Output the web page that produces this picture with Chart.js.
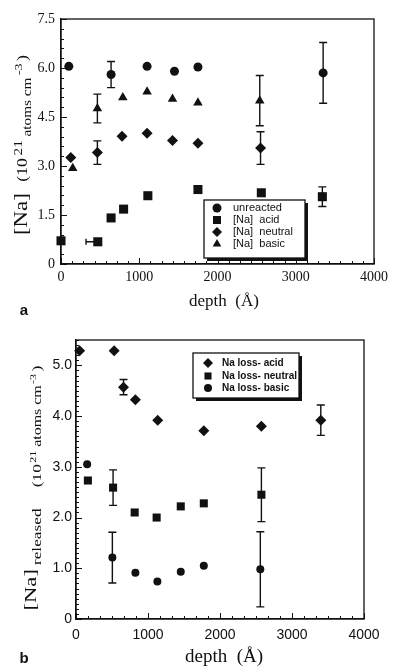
<!doctype html>
<html>
<head>
<meta charset="utf-8">
<script src="https://cdn.jsdelivr.net/npm/chart.js@4.4.1/dist/chart.umd.min.js"></script>
<style>
  html, body { margin: 0; padding: 0; background: #fff; }
  #wrap { position: relative; width: 393px; height: 667px; overflow: hidden; }
  .box { position: absolute; left: 0; width: 393px; }
  #boxA { top: 0; height: 320px; }
  #boxB { top: 320px; height: 347px; }
</style>
</head>
<body>
<div id="wrap">
  <div class="box" id="boxA"><canvas id="chartA" width="393" height="320"></canvas></div>
  <div class="box" id="boxB"><canvas id="chartB" width="393" height="347"></canvas></div>
</div>
<script>
// ---------- panel a ----------
var xTicks = [0, 1000, 2000, 3000, 4000];
var yTicksA = [0, 1.5, 3.0, 4.5, 6.0, 7.5];

var unreactedX = [100, 640, 1100, 1450, 1750, 3350];
var unreactedY = [6.05, 5.8, 6.05, 5.9, 6.03, 5.85];
var unreactedErr = [null, 0.4, null, null, null, 0.93];

var acidX = [0, 470, 640, 800, 1110, 1750, 2560, 3340];
var acidY = [0.71, 0.68, 1.41, 1.68, 2.09, 2.28, 2.18, 2.06];
var acidErr = [null, null, null, null, null, null, null, 0.3];
var acidXErr = [null, 150, null, null, null, null, null, null];

var neutralX = [125, 465, 780, 1100, 1425, 1750, 2550];
var neutralY = [3.26, 3.41, 3.91, 4.0, 3.78, 3.7, 3.55];
var neutralErr = [null, 0.36, null, null, null, null, 0.5];

var basicX = [150, 465, 790, 1100, 1425, 1750, 2540];
var basicY = [2.93, 4.76, 5.1, 5.27, 5.05, 4.94, 5.0];
var basicErr = [null, 0.44, null, null, null, null, 0.77];

// ---------- panel b ----------
var yTicksB = [0, 1, 2, 3, 4, 5];

var lossAcidX = [50, 530, 660, 825, 1135, 1775, 2575, 3400];
var lossAcidY = [5.29, 5.29, 4.57, 4.32, 3.92, 3.71, 3.8, 3.92];
var lossAcidErr = [null, null, 0.15, null, null, null, null, 0.3];

var lossNeutralX = [165, 515, 815, 1120, 1455, 1775, 2575];
var lossNeutralY = [2.73, 2.59, 2.1, 2.0, 2.22, 2.28, 2.45];
var lossNeutralErr = [null, 0.35, null, null, null, null, 0.53];

var lossBasicX = [155, 505, 825, 1130, 1455, 1775, 2560];
var lossBasicY = [3.05, 1.21, 0.91, 0.74, 0.93, 1.05, 0.98];
var lossBasicErr = [null, 0.5, null, null, null, null, 0.74];

var INK = '#111';
var SERIF = '"Liberation Serif", "Times New Roman", serif';
var SANS = '"Liberation Sans", Arial, sans-serif';

function pts(xs, ys) {
  return xs.map(function (x, i) { return { x: x, y: ys[i] }; });
}

function series(label, xs, ys, style, r, err, xerr) {
  return {
    label: label,
    data: pts(xs, ys),
    err: err,
    xerr: xerr || null,
    showLine: false,
    pointStyle: style,
    pointRadius: r,
    pointBackgroundColor: INK,
    pointBorderColor: INK,
    pointBorderWidth: 0,
    clip: false
  };
}

// layout/text settings for each panel, read by the plugin
var panels = {
  chartA: {
    minorX: 7, minorY: 5,
    title: { baseX: 27, cy: 145, len: 180, segs: [
      { t: '[Na]', f: '18px ' + SERIF, dy: 0 },
      { t: '(10', f: '14px ' + SERIF, dy: 0, gap: 9 },
      { t: '21', f: '12px ' + SERIF, dy: -5, gap: 2 },
      { t: 'atoms cm', f: '12px ' + SERIF, dy: 4, gap: 3 },
      { t: '-3', f: '11px ' + SERIF, dy: -5, gap: 2 },
      { t: ')', f: '14px ' + SERIF, dy: 0, gap: 2 }
    ] },
    xTitle: { t: 'depth  (\u00C5)', f: '17px ' + SERIF, x: 224, y: 302 },
    letter: { t: 'a', x: 24, y: 311 },
    legend: { x: 204, y: 200, w: 101, h: 58, symX: 217, textX: 233,
      font: '11px ' + SANS, rows: [208, 220, 232, 244],
      sym: [['circle', 4.5], ['rect', 5.7], ['rectRot', 5], ['triangle', 5]],
      labels: ['unreacted', '[Na]  acid', '[Na]  neutral', '[Na]  basic'] }
  },
  chartB: {
    minorX: 6, minorY: 10,
    title: { baseX: 36, cy: 168, len: 245, segs: [
      { t: '[Na]', f: '17px ' + SERIF, dy: 0 },
      { t: 'released', f: '13px ' + SERIF, dy: 5, gap: 3 },
      { t: '(10', f: '13px ' + SERIF, dy: 5, gap: 16 },
      { t: '21', f: '9px ' + SERIF, dy: 0, gap: 1 },
      { t: 'atoms cm', f: '12px ' + SERIF, dy: 5, gap: 3 },
      { t: '-3', f: '9px ' + SERIF, dy: 0, gap: 1 },
      { t: ')', f: '13px ' + SERIF, dy: 5, gap: 2 }
    ] },
    xTitle: { t: 'depth  (\u00C5)', f: '19px ' + SERIF, x: 224, y: 337 },
    letter: { t: 'b', x: 24, y: 339 },
    legend: { x: 193, y: 33, w: 106, h: 45, symX: 208, textX: 222,
      font: 'bold 10px ' + SANS, rows: [43, 56, 68],
      sym: [['rectRot', 5], ['rect', 5], ['circle', 4]],
      labels: ['Na loss- acid', 'Na loss- neutral', 'Na loss- basic'] }
  }
};

function drawRichVertical(ctx, t) {
  var total = 0;
  t.segs.forEach(function (s) {
    ctx.font = s.f;
    s.w = ctx.measureText(s.t).width;
    total += s.w + (s.gap || 0);
  });
  var sx = t.len / total;
  ctx.save();
  ctx.translate(t.baseX, t.cy);
  ctx.rotate(-Math.PI / 2);
  ctx.scale(sx, 1);
  ctx.fillStyle = INK;
  ctx.textBaseline = 'alphabetic';
  ctx.textAlign = 'left';
  var pos = -total / 2;
  t.segs.forEach(function (s) {
    pos += s.gap || 0;
    ctx.font = s.f;
    ctx.fillText(s.t, pos, s.dy);
    pos += s.w;
  });
  ctx.restore();
}

var decor = {
  id: 'decor',
  beforeDatasetsDraw: function (chart) {
    var ctx = chart.ctx, xs = chart.scales.x, ys = chart.scales.y;
    ctx.save();
    ctx.strokeStyle = INK;
    ctx.lineWidth = 1.4;
    chart.data.datasets.forEach(function (ds) {
      ds.data.forEach(function (p, i) {
        var px = xs.getPixelForValue(p.x), py = ys.getPixelForValue(p.y);
        if (ds.err && ds.err[i]) {
          var t = ys.getPixelForValue(p.y + ds.err[i]);
          var b = ys.getPixelForValue(p.y - ds.err[i]);
          ctx.beginPath();
          ctx.moveTo(px, t); ctx.lineTo(px, b);
          ctx.moveTo(px - 4, t); ctx.lineTo(px + 4, t);
          ctx.moveTo(px - 4, b); ctx.lineTo(px + 4, b);
          ctx.stroke();
        }
        if (ds.xerr && ds.xerr[i]) {
          var l = xs.getPixelForValue(p.x - ds.xerr[i]);
          ctx.beginPath();
          ctx.moveTo(l, py); ctx.lineTo(px, py);
          ctx.moveTo(l, py - 3); ctx.lineTo(l, py + 3);
          ctx.stroke();
        }
      });
    });
    ctx.restore();
  },
  afterDraw: function (chart) {
    var cfg = panels[chart.canvas.id];
    var ctx = chart.ctx, a = chart.chartArea;
    var xs = chart.scales.x, ys = chart.scales.y;
    ctx.save();
    ctx.strokeStyle = INK;
    ctx.lineWidth = 1.3;
    ctx.strokeRect(a.left, a.top, a.right - a.left, a.bottom - a.top);

    // inward ticks
    ctx.lineWidth = 1;
    ctx.beginPath();
    var step = 1000 / cfg.minorX;
    for (var k = 0; k <= 4 * cfg.minorX; k++) {
      var px = Math.round(xs.getPixelForValue(k * step)) + 0.5;
      var len = k % cfg.minorX === 0 ? 6 : 3;
      ctx.moveTo(px, a.bottom); ctx.lineTo(px, a.bottom - len);
    }
    var yMajor = ys.ticks[1].value - ys.ticks[0].value;
    var ystep = yMajor / cfg.minorY;
    for (var j = 0; j * ystep <= ys.max + 1e-9; j++) {
      var py = Math.round(ys.getPixelForValue(j * ystep)) + 0.5;
      var ylen = j % cfg.minorY === 0 ? 6 : 3;
      ctx.moveTo(a.left, py); ctx.lineTo(a.left + ylen, py);
    }
    ctx.stroke();

    // axis titles
    drawRichVertical(ctx, cfg.title);
    ctx.fillStyle = INK;
    ctx.textAlign = 'center';
    ctx.textBaseline = 'middle';
    ctx.font = cfg.xTitle.f;
    ctx.fillText(cfg.xTitle.t, cfg.xTitle.x, cfg.xTitle.y);
    ctx.font = 'bold 15px ' + SANS;
    ctx.fillText(cfg.letter.t, cfg.letter.x, cfg.letter.y);

    // legend box with drop shadow
    var L = cfg.legend;
    ctx.fillStyle = INK;
    ctx.fillRect(L.x + 3, L.y + 3, L.w, L.h);
    ctx.fillStyle = '#fff';
    ctx.fillRect(L.x, L.y, L.w, L.h);
    ctx.lineWidth = 1.3;
    ctx.strokeRect(L.x, L.y, L.w, L.h);
    ctx.textAlign = 'left';
    ctx.font = L.font;
    L.labels.forEach(function (lab, i) {
      ctx.fillStyle = INK;
      Chart.helpers.drawPoint(ctx, { pointStyle: L.sym[i][0], radius: L.sym[i][1], rotation: 0, borderWidth: 0 }, L.symX, L.rows[i]);
      ctx.fillStyle = INK;
      ctx.fillText(lab, L.textX, L.rows[i]);
    });
    ctx.restore();
  }
};

function makeChart(id, datasets, yMax, yTicks, pad, yWidth, xHeight, tickFont, yPad, xPad) {
  return new Chart(document.getElementById(id), {
    type: 'scatter',
    data: { datasets: datasets },
    plugins: [decor],
    options: {
      responsive: false,
      animation: false,
      events: [],
      layout: { padding: pad },
      plugins: { legend: { display: false }, tooltip: { enabled: false } },
      scales: {
        x: {
          type: 'linear', min: 0, max: 4000,
          afterBuildTicks: function (s) { s.ticks = xTicks.map(function (v) { return { value: v }; }); },
          afterFit: function (s) { s.height = xHeight; },
          grid: { display: false, drawTicks: false },
          border: { display: true, color: INK, width: 1.3 },
          ticks: { font: tickFont, color: INK, padding: xPad, maxRotation: 0, autoSkip: false,
            callback: function (v) { return String(v); } }
        },
        y: {
          type: 'linear', min: 0, max: yMax,
          afterBuildTicks: function (s) { s.ticks = yTicks.map(function (v) { return { value: v }; }); },
          afterFit: function (s) { s.width = yWidth; },
          grid: { display: false, drawTicks: false },
          border: { display: true, color: INK, width: 1.3 },
          ticks: { font: tickFont, color: INK, padding: yPad, autoSkip: false,
            callback: function (v) { return v === 0 ? '0' : v.toFixed(1); } }
        }
      }
    }
  });
}

makeChart('chartA', [
  series('unreacted', unreactedX, unreactedY, 'circle', 4.5, unreactedErr),
  series('[Na] acid', acidX, acidY, 'rect', 6.4, acidErr, acidXErr),
  series('[Na] neutral', neutralX, neutralY, 'rectRot', 5.5, neutralErr),
  series('[Na] basic', basicX, basicY, 'triangle', 5.5, basicErr)
], 7.5, yTicksA, { top: 19, right: 14, left: 0, bottom: 0 }, 61, 56,
  { family: SERIF, size: 14 }, 6, 5);

makeChart('chartB', [
  series('Na loss- acid', lossAcidX, lossAcidY, 'rectRot', 5.5, lossAcidErr),
  series('Na loss- neutral', lossNeutralX, lossNeutralY, 'rect', 5.7, lossNeutralErr),
  series('Na loss- basic', lossBasicX, lossBasicY, 'circle', 4, lossBasicErr)
], 5.5, yTicksB, { top: 20, right: 29, left: 0, bottom: 0 }, 76, 48,
  { family: SANS, size: 14 }, 4, 8);
</script>
</body>
</html>
